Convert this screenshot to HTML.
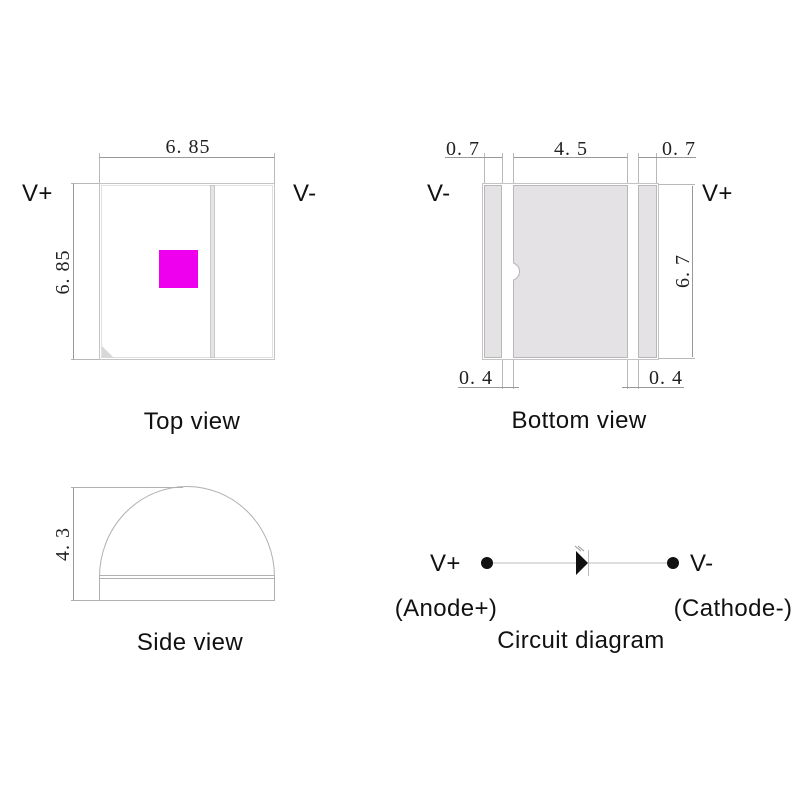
<!DOCTYPE html>
<html><head><meta charset="utf-8"><style>html,body{margin:0;padding:0;background:#fff;width:800px;height:800px;overflow:hidden}</style></head>
<body>
<svg width="800" height="800" viewBox="0 0 800 800" xmlns="http://www.w3.org/2000/svg">
<g fill="none" stroke="#b8b8b8" stroke-width="1">
<rect x="99.5" y="183.5" width="175" height="176" stroke="#c4c4c4"/>
<rect x="101.5" y="185.5" width="171" height="172" stroke="#e0e0e0"/>
<rect x="210.5" y="185.5" width="4" height="172" fill="#e4e4e4" stroke="#c8c8c8"/>
<line x1="99.5" y1="153" x2="99.5" y2="183"/>
<line x1="274.5" y1="153" x2="274.5" y2="183"/>
<line x1="99.5" y1="157.5" x2="274.5" y2="157.5" stroke="#999"/>
<line x1="71" y1="183.5" x2="99" y2="183.5"/>
<line x1="71" y1="359.5" x2="99" y2="359.5"/>
<line x1="73.5" y1="183.5" x2="73.5" y2="359.5" stroke="#999"/>
</g>
<polygon points="102,346 102,358 114,358" fill="#d8d8d8"/>
<rect x="159" y="250" width="39" height="38" fill="#ee00ee"/>
<g font-family="Liberation Serif, serif" font-size="20" fill="#222">
<text x="188" y="153" text-anchor="middle" letter-spacing="1">6. 85</text>
<text transform="translate(69,272) rotate(-90)" text-anchor="middle" letter-spacing="1">6. 85</text>
</g>
<g font-family="Liberation Sans, sans-serif" font-size="24" fill="#111" letter-spacing="0.4">
<text x="22" y="201">V+</text>
<text x="293" y="201">V-</text>
<text x="192" y="429" text-anchor="middle">Top view</text>
<text x="427" y="201">V-</text>
<text x="702" y="201">V+</text>
<text x="579" y="428" text-anchor="middle">Bottom view</text>
<text x="190" y="650" text-anchor="middle">Side view</text>
<text x="430" y="571">V+</text>
<text x="690" y="571">V-</text>
<text x="446" y="616" text-anchor="middle">(Anode+)</text>
<text x="733" y="616" text-anchor="middle">(Cathode-)</text>
<text x="581" y="648" text-anchor="middle">Circuit diagram</text>
</g>
<g fill="none" stroke="#b8b8b8" stroke-width="1">
<rect x="482.5" y="183.5" width="176" height="176" stroke="#c4c4c4"/>
<rect x="484.5" y="185.5" width="17" height="172" fill="#e4e2e4"/>
<path d="M513.5,185.5 H627.5 V357.5 H513.5 V280 A9,9 0 0 0 513.5,263 Z" fill="#e4e2e4"/>
<rect x="638.5" y="185.5" width="18" height="172" fill="#e4e2e4"/>
<line x1="484.5" y1="153" x2="484.5" y2="183"/>
<line x1="502.5" y1="153" x2="502.5" y2="183"/>
<line x1="513.5" y1="153" x2="513.5" y2="183"/>
<line x1="627.5" y1="153" x2="627.5" y2="183"/>
<line x1="638.5" y1="153" x2="638.5" y2="183"/>
<line x1="656.5" y1="153" x2="656.5" y2="183"/>
<line x1="445" y1="157.5" x2="502.5" y2="157.5" stroke="#999"/>
<line x1="513.5" y1="157.5" x2="627.5" y2="157.5" stroke="#999"/>
<line x1="638.5" y1="157.5" x2="696" y2="157.5" stroke="#999"/>
<line x1="658" y1="184.5" x2="695" y2="184.5"/>
<line x1="658" y1="358.5" x2="695" y2="358.5"/>
<line x1="692.5" y1="186" x2="692.5" y2="357" stroke="#999"/>
<line x1="502.5" y1="360" x2="502.5" y2="389"/>
<line x1="513.5" y1="360" x2="513.5" y2="389"/>
<line x1="627.5" y1="360" x2="627.5" y2="389"/>
<line x1="638.5" y1="360" x2="638.5" y2="389"/>
<line x1="458" y1="387.5" x2="519" y2="387.5" stroke="#999"/>
<line x1="622" y1="387.5" x2="684" y2="387.5" stroke="#999"/>
</g>
<g font-family="Liberation Serif, serif" font-size="20" fill="#222">
<text x="463" y="155" text-anchor="middle" letter-spacing="1">0. 7</text>
<text x="571" y="155" text-anchor="middle" letter-spacing="1">4. 5</text>
<text x="679" y="155" text-anchor="middle" letter-spacing="1">0. 7</text>
<text transform="translate(689,271) rotate(-90)" text-anchor="middle" letter-spacing="1">6. 7</text>
<text x="476" y="384" text-anchor="middle" letter-spacing="1">0. 4</text>
<text x="666" y="384" text-anchor="middle" letter-spacing="1">0. 4</text>
<text transform="translate(69,544) rotate(-90)" text-anchor="middle" letter-spacing="1">4. 3</text>
</g>
<g fill="none" stroke="#b0b0b0" stroke-width="1">
<path d="M99.5,600.5 V577 A87,90 0 0 1 274.5,577 V600.5 Z"/>
<line x1="99.5" y1="575.5" x2="274.5" y2="575.5"/>
<line x1="99.5" y1="578.5" x2="274.5" y2="578.5"/>
<line x1="71" y1="487.5" x2="183" y2="487.5"/>
<line x1="71" y1="600.5" x2="99" y2="600.5"/>
<line x1="73.5" y1="487.5" x2="73.5" y2="600.5" stroke="#999"/>
</g>
<line x1="487" y1="563" x2="673" y2="563" stroke="#bbb" stroke-width="1"/>
<circle cx="487" cy="563" r="6" fill="#111"/>
<circle cx="673" cy="563" r="6" fill="#111"/>
<polygon points="576,551 588,563 576,575" fill="#111"/>
<line x1="588.5" y1="550" x2="588.5" y2="576" stroke="#bbb"/>
<line x1="575" y1="546" x2="581" y2="551" stroke="#999"/>
<line x1="578" y1="546" x2="584" y2="551" stroke="#999"/>
</svg>
</body></html>
